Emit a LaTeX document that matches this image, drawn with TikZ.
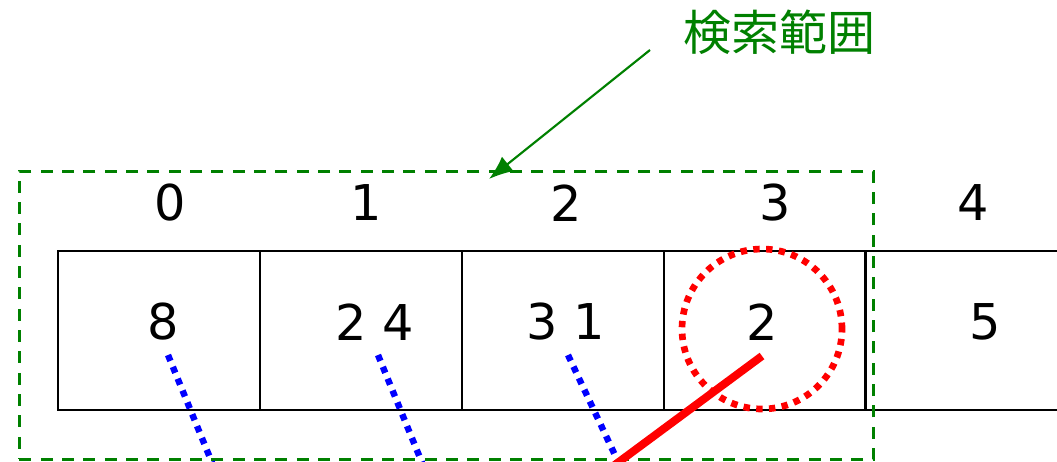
\documentclass[tikz,border=0pt]{standalone}
\usepackage{fontspec}
\setmainfont{DejaVu Sans}
\newfontfamily\cjk{Noto Sans CJK JP}
\usetikzlibrary{arrows.meta}
\definecolor{rangegreen}{RGB}{0,128,0}
\begin{document}
\begin{tikzpicture}[x=0.75pt,y=-0.75pt,
  cellbox/.style={draw=black,line width=1.4pt,minimum width=151.5pt,minimum height=119.25pt,inner sep=0pt,anchor=north west},
  idx/.style={font=\fontsize{37}{40}\selectfont},
  val/.style={font=\fontsize{37}{40}\selectfont},
  bluedot/.style={draw=blue,line width=4.8pt,dash pattern=on 4.8pt off 4.8pt},
  redline/.style={draw=red,line width=6pt},
  reddot/.style={draw=red,line width=5pt,dash pattern=on 4.8pt off 4.8pt},
  rangebox/.style={draw=rangegreen,line width=2.2pt,dash pattern=on 9pt off 7pt},
  rangearrow/.style={draw=rangegreen,line width=1.6pt,-{Latex[length=18pt,width=14pt]}}]
\useasboundingbox (0,0) rectangle (1057,461);
\begin{scope}
\clip (0,0) rectangle (1057,461);
% cells
\node[cellbox] (c0) at (57,250) {};
\node[cellbox] (c1) at (259,250) {};
\node[cellbox] (c2) at (461,250) {};
\node[cellbox] (c3) at (663,250) {};
\node[cellbox] (c4) at (864,250) {};
% index labels
\node[idx] (i0) at (170,203) {0};
\node[idx] (i1) at (366,203) {1};
\node[idx] (i2) at (566,203) {2};
\node[idx] (i3) at (775,203) {3};
\node[idx] (i4) at (973,203) {4};
% values
\node[val] (v0) at (163,322) {8};
\node[val] (v1) at (375,322) {2 4};
\node[val] (v2) at (566,322) {3 1};
\node[val] (v3) at (762,322) {2};
\node[val] (v4) at (985,322) {5};
% search range
\node[rangebox,minimum width=640.5pt,minimum height=216pt,inner sep=0pt,anchor=north west] (range) at (18,170) {};
\node[text=rangegreen,font=\cjk\fontsize{36}{40}\selectfont,anchor=west,inner sep=0pt] (label) at (683,32) {検索範囲};
\coordinate (arrs) at (650,50);
\coordinate (arre) at (489,179);
\draw[rangearrow] (arrs) -- (arre);
% pointers
\coordinate (e0) at (215,470);
\coordinate (e1) at (425,470);
\coordinate (e2) at (622,470);
\coordinate (e3) at (608,470);
\coordinate (s0) at (168,355);
\coordinate (s1) at (378,355);
\coordinate (s2) at (568,355);
\coordinate (s3) at (762,356);
\draw[bluedot] (s0) -- (e0);
\draw[bluedot] (s1) -- (e1);
\draw[bluedot] (s2) -- (e2);
\node[reddot,circle,minimum size=120pt,inner sep=0pt] (mark) at (762,329) {};
\draw[redline] (s3) -- (e3);
\end{scope}
\end{tikzpicture}
\end{document}
